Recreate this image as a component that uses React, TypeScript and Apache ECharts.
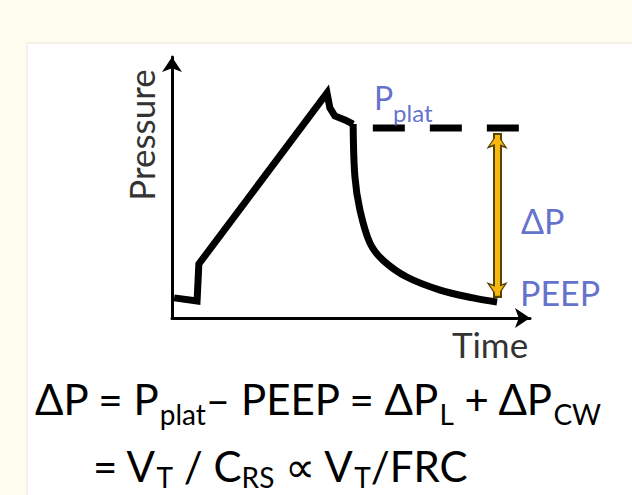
import React, { useEffect, useRef } from 'react';
import * as echarts from 'echarts';

// Pressure-time curve of a volume-controlled breath (normalised units 0-100)
const timeValues = [0.6, 7.0, 7.5, 43.3, 44.1, 45.5, 48.3, 50.6, 51.1, 52.5, 55.3, 58.9, 65.6, 74.9, 84.1, 90.8];
const pressureValues = [7.7, 6.5, 20.7, 86.2, 80.5, 77.4, 75.9, 74.3, 54.0, 41.4, 28.7, 22.2, 15.7, 10.7, 7.7, 6.1];
// index where the expiratory (passive decay) phase starts
const expirationStart = 7;

// Plateau pressure reference (dashed)
const plateauTime = [56.1, 96.9];
const plateauPressure = 72.8;

// Driving pressure arrow
const deltaArrowTime = 90.8;
const deltaArrowPressure = [70.9, 7.7];

// Annotation anchors [time, pressure, key]
const annotationTime = [56.4, 97.5, 97.2];
const annotationPressure = [82.3, 37.5, 9.6];
const annotationKeys = ['pplat', 'dp', 'peep'];

const axisNames = { x: 'Time', y: 'Pressure' };
const formulaLine1 = '{n|ΔP = P}{s|plat}{n|– PEEP = ΔP}{s|L}{n| + ΔP}{s|CW}';
const formulaLine2 = '{n|= V}{s|T}{n| / C}{s|RS}{n| ∝ V}{s|T}{n|/FRC}';

const FONT = 'Lato, "DejaVu Sans", sans-serif';
const BLUE = '#3a4cc0';

export default function App() {
  const ref = useRef<HTMLDivElement>(null);
  useEffect(() => {
    if (!ref.current) return;
    const chart = echarts.init(ref.current, null, { renderer: 'svg' });
    const curve = timeValues.map((t, i) => [t, pressureValues[i]]);
    const inspiration = curve.slice(0, expirationStart + 1);
    const expiration = curve.slice(expirationStart);
    const labelText: Record<string, string> = {
      pplat: '{n|P}{s|plat}',
      dp: '{m|ΔP}',
      peep: '{m|PEEP}',
    };
    const formulaRich = (lh: number) => ({
      n: { fontSize: 42, lineHeight: lh, verticalAlign: 'top', fontFamily: FONT, color: '#222' },
      s: { fontSize: 28, lineHeight: lh, verticalAlign: 'bottom', fontFamily: FONT, color: '#222' },
    });
    const option: any = {
      animation: false,
      backgroundColor: '#fffdf0',
      grid: { left: 172, right: 102, top: 57, bottom: 177, containLabel: false },
      xAxis: {
        type: 'value', min: 0, max: 100,
        axisLine: { show: true, onZero: false, symbol: ['none', 'arrow'], symbolSize: [15, 15], lineStyle: { color: '#000', width: 3 } },
        axisTick: { show: false }, axisLabel: { show: false }, splitLine: { show: false },
      },
      yAxis: {
        type: 'value', min: 0, max: 100,
        axisLine: { show: true, onZero: false, symbol: ['none', 'arrow'], symbolSize: [15, 15], lineStyle: { color: '#000', width: 3 } },
        axisTick: { show: false }, axisLabel: { show: false }, splitLine: { show: false },
      },
      graphic: [
        { type: 'rect', z: -10, shape: { x: 27, y: 43, width: 620, height: 470 }, style: { fill: '#ffffff', stroke: '#f1efe4', lineWidth: 1.5 } },
        {
          type: 'text', x: 141, y: 135, rotation: Math.PI / 2,
          style: { text: axisNames.y, font: `35px ${FONT}`, fill: '#333', align: 'center', verticalAlign: 'middle' },
        },
        {
          type: 'text', x: 490, y: 344,
          style: { text: axisNames.x, font: `35px ${FONT}`, fill: '#333', align: 'center', verticalAlign: 'middle' },
        },
        {
          type: 'text', x: 35, y: 378,
          style: { text: formulaLine1, align: 'left', verticalAlign: 'top', rich: formulaRich(50) },
        },
        {
          type: 'text', x: 93, y: 445,
          style: { text: formulaLine2, align: 'left', verticalAlign: 'top', rich: formulaRich(46) },
        },
      ],
      series: [
        {
          type: 'line', data: inspiration, showSymbol: false, symbol: 'none', smooth: false,
          lineStyle: { color: '#000', width: 7, join: 'miter' }, z: 5,
        },
        {
          type: 'line', data: expiration, showSymbol: false, symbol: 'none', smooth: 0.35,
          lineStyle: { color: '#000', width: 7, join: 'round' }, z: 5,
        },
        {
          type: 'line', data: plateauTime.map((t) => [t, plateauPressure]), showSymbol: false, symbol: 'none',
          lineStyle: { color: '#000', width: 7, type: [32, 25], cap: 'butt' }, z: 5,
        },
        {
          type: 'lines', coordinateSystem: 'cartesian2d', z: 6,
          symbol: ['arrow', 'arrow'], symbolSize: 16,
          lineStyle: { color: '#5a4200', width: 9, opacity: 1 },
          data: [{ coords: [[deltaArrowTime, deltaArrowPressure[0]], [deltaArrowTime, deltaArrowPressure[1]]] }],
        },
        {
          type: 'lines', coordinateSystem: 'cartesian2d', z: 7,
          symbol: ['arrow', 'arrow'], symbolSize: 11,
          lineStyle: { color: '#f7b90f', width: 5, opacity: 1 },
          data: [{ coords: [[deltaArrowTime, deltaArrowPressure[0] - 0.8], [deltaArrowTime, deltaArrowPressure[1] + 0.8]] }],
        },
        {
          type: 'scatter', symbolSize: 0, z: 8,
          data: annotationKeys.map((k, i) => [annotationTime[i], annotationPressure[i], k]),
          label: {
            show: true, position: [0, 0], align: 'left', verticalAlign: 'middle',
            formatter: (p: any) => labelText[p.value[2]],
            rich: {
              n: { fontSize: 32, lineHeight: 43, verticalAlign: 'top', fontFamily: FONT, color: BLUE },
              s: { fontSize: 24, lineHeight: 43, verticalAlign: 'bottom', fontFamily: FONT, color: BLUE },
              m: { fontSize: 34, lineHeight: 40, fontFamily: FONT, color: BLUE },
            },
          },
        },
      ],
    };
    chart.setOption(option);
    return () => chart.dispose();
  }, []);
  return <div ref={ref} style={{ position: 'fixed', left: 0, top: 0, width: 632, height: 495 }} />;
}
